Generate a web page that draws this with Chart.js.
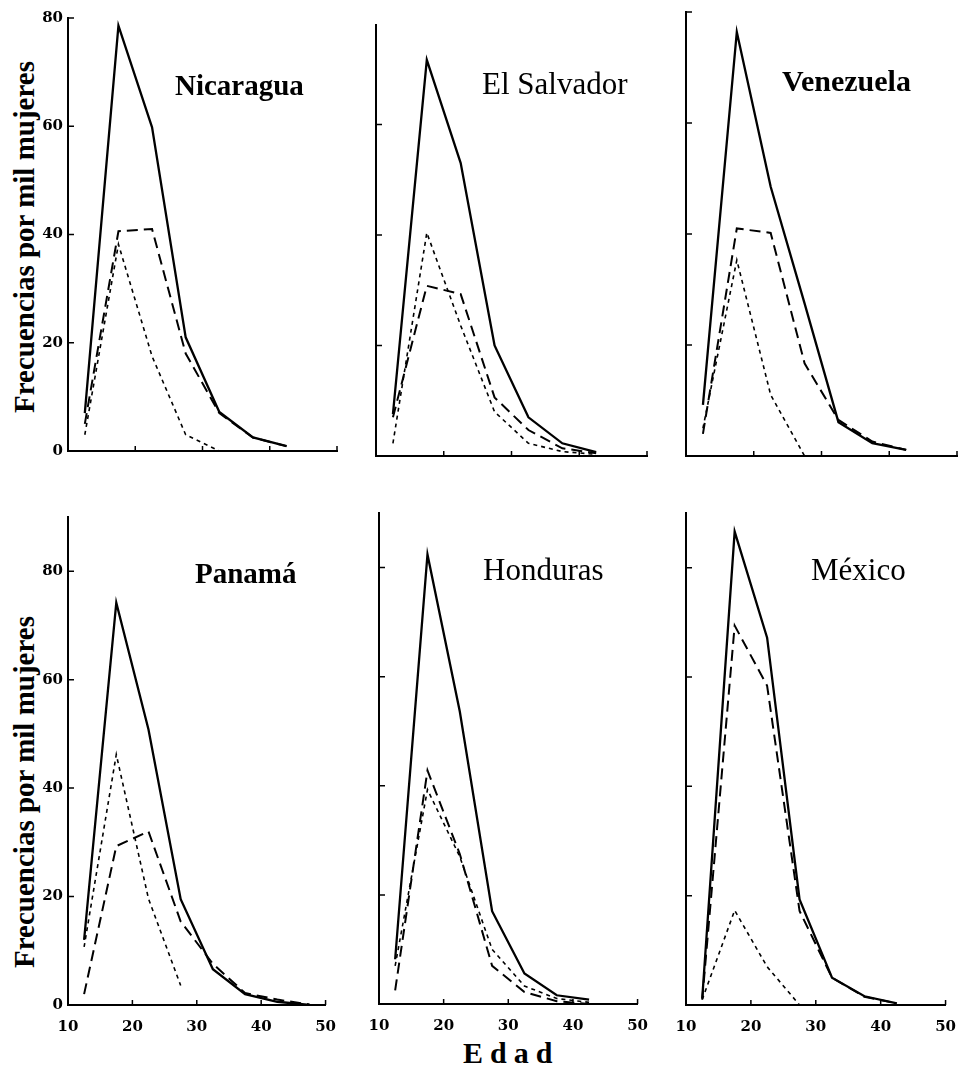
<!DOCTYPE html>
<html lang="es">
<head>
<meta charset="utf-8">
<title>Frecuencias por mil mujeres según edad</title>
<script src="https://cdn.jsdelivr.net/npm/chart.js@4.4.1/dist/chart.umd.min.js"></script>
<style>
  body { margin: 0; background: #fff; }
  #lienzo { position: relative; width: 967px; height: 1069px; overflow: hidden; background: #fff; }
  #lienzo canvas { position: absolute; }
  .pais { position: absolute; font-family: 'Liberation Serif', serif; color: #000; white-space: nowrap; }
  .eje-y { position: absolute; font-family: 'Liberation Serif', serif; font-weight: bold; font-size: 29px; line-height: 29px;
           white-space: nowrap; transform: translate(-50%, -50%) rotate(-90deg); color: #000; }
  .edad { position: absolute; left: 463px; top: 1038px; font-family: 'Liberation Serif', serif; font-weight: bold;
          font-size: 30px; line-height: 30px; letter-spacing: 7px; color: #000; }
</style>
</head>
<body>
<div id="lienzo">
  <div class="eje-y" style="left:24px; top:237px;">Frecuencias por mil mujeres</div>
  <div class="eje-y" style="left:24px; top:792px;">Frecuencias por mil mujeres</div>
  <div class="edad">Edad</div>
</div>
<script>
// edad central de cada grupo quinquenal
const edades = [12.5, 17.5, 22.5, 27.5, 32.5, 37.5, 42.5, 47.5];
const ticksY = [0, 20, 40, 60, 80];
const ticksX = [10, 20, 30, 40, 50];

const paises = ['Nicaragua', 'El Salvador', 'Venezuela', 'Panamá', 'Honduras', 'México'];

// linea continua / rayas largas / rayas cortas
const nicaraguaContinua = [7, 78.6, 59.8, 21, 7.2, 2.5, 0.9, null];
const nicaraguaRayas    = [5, 40.6, 41, 18, 7, 2.5, 0.9, null];
const nicaraguaPuntos   = [3, 38.2, 17.5, 3, 0, null, null, null];

const salvadorContinua = [7.6, 71.7, 53, 20, 7, 2.3, 0.7, null];
const salvadorRayas    = [7, 30.8, 29.3, 10.6, 4.7, 1.4, 0.5, null];
const salvadorPuntos   = [2.3, 40.4, 23.6, 8, 2.3, 0.8, 0.3, null];

const venezuelaContinua = [9.2, 76.4, 48.5, 27.5, 6.1, 2.3, 1.1, null];
const venezuelaRayas    = [4, 41, 40.2, 16.7, 6.5, 2.6, 1.1, null];
const venezuelaPuntos   = [5, 35.3, 11, 0, null, null, null, null];

const panamaContinua = [12, 74.2, 50.8, 19.5, 6.6, 2, 0.6, 0];
const panamaRayas    = [2, 29.3, 32, 15.4, 7.6, 2.2, 1, 0.1];
const panamaPuntos   = [10.7, 46.2, 19.6, 3.6, null, null, null, null];

const hondurasContinua = [8.2, 82.4, 53.6, 17, 5.6, 1.6, 0.8, null];
const hondurasRayas    = [2.5, 42.8, 27.5, 7, 2.2, 0.5, 0, null];
const hondurasPuntos   = [7, 39.3, 27, 10, 3.3, 1, 0.3, null];

const mexicoContinua = [1.2, 86.6, 67.2, 19.3, 5, 1.6, 0.3, null];
const mexicoRayas    = [1, 69.4, 58.4, 17.2, 5, 1.5, 0.3, null];
const mexicoPuntos   = [1, 17.3, 7, 0, null, null, null, null];

const series = [
  [nicaraguaContinua, nicaraguaRayas, nicaraguaPuntos],
  [salvadorContinua, salvadorRayas, salvadorPuntos],
  [venezuelaContinua, venezuelaRayas, venezuelaPuntos],
  [panamaContinua, panamaRayas, panamaPuntos],
  [hondurasContinua, hondurasRayas, hondurasPuntos],
  [mexicoContinua, mexicoRayas, mexicoPuntos]
];

// area de trazado de cada panel en la pagina
const marcos = [
  { l: 68,  r: 337, t: 14,  b: 457,  max: 80, conY: true,  conX: false },
  { l: 376, r: 647, t: 25,  b: 456,  max: 78, conY: false, conX: false },
  { l: 686, r: 957, t: 12,  b: 456,  max: 80, conY: false, conX: false },
  { l: 68,  r: 337, t: 513, b: 1005, max: 90, conY: true,  conX: true },
  { l: 379, r: 649, t: 513, b: 1004, max: 90, conY: false, conX: true },
  { l: 686, r: 957, t: 513, b: 1005, max: 90, conY: false, conX: true }
];

const rotulos = [
  { left: 175, top: 71,  size: 29, bold: true },
  { left: 482, top: 68,  size: 31, bold: false },
  { left: 782, top: 66,  size: 30, bold: true },
  { left: 195, top: 559, size: 29, bold: true },
  { left: 483, top: 554, size: 31, bold: false },
  { left: 811, top: 554, size: 31, bold: false }
];

const estilos = [
  { width: 2.3, dash: [] },
  { width: 2, dash: [11, 6] },
  { width: 1.6, dash: [4, 4] }
];

// marcas cortas hacia dentro en ambos ejes
const marcasInternas = {
  id: 'marcasInternas',
  afterDraw(chart) {
    const { ctx, chartArea } = chart;
    const sx = chart.scales.x;
    const sy = chart.scales.y;
    ctx.save();
    ctx.strokeStyle = '#000';
    ctx.lineWidth = 1.5;
    ctx.beginPath();
    sx.ticks.forEach(t => {
      if (t.value <= sx.min) return;
      const px = sx.getPixelForValue(t.value);
      ctx.moveTo(px, chartArea.bottom);
      ctx.lineTo(px, chartArea.bottom - 5);
    });
    sy.ticks.forEach(t => {
      if (t.value <= sy.min) return;
      const py = sy.getPixelForValue(t.value);
      ctx.moveTo(chartArea.left, py);
      ctx.lineTo(chartArea.left + 6, py);
    });
    ctx.stroke();
    ctx.restore();
  }
};

const lienzo = document.getElementById('lienzo');
const fuente = { family: "'DejaVu Serif', serif", size: 15, weight: 'bold' };

marcos.forEach((m, i) => {
  const altoX = m.conX ? 40 : 8;
  const canvas = document.createElement('canvas');
  canvas.width = m.r - m.l + 72;
  canvas.height = m.b - m.t + 10 + altoX;
  canvas.style.left = (m.l - 60) + 'px';
  canvas.style.top = (m.t - 10) + 'px';
  lienzo.appendChild(canvas);

  const rot = rotulos[i];
  const div = document.createElement('div');
  div.className = 'pais';
  div.textContent = paises[i];
  div.style.left = rot.left + 'px';
  div.style.top = rot.top + 'px';
  div.style.fontSize = rot.size + 'px';
  div.style.lineHeight = rot.size + 'px';
  div.style.fontWeight = rot.bold ? 'bold' : 'normal';
  lienzo.appendChild(div);

  const datasets = series[i].map((valores, k) => ({
    data: edades.map((e, j) => ({ x: e, y: valores[j] })),
    borderColor: '#000',
    borderWidth: estilos[k].width,
    borderDash: estilos[k].dash,
    pointRadius: 0,
    fill: false,
    tension: 0,
    spanGaps: false
  }));

  new Chart(canvas, {
    type: 'line',
    data: { datasets: datasets },
    options: {
      responsive: false,
      animation: false,
      layout: { padding: { left: 0, top: 10, right: 12, bottom: 0 } },
      plugins: { legend: { display: false }, tooltip: { enabled: false } },
      scales: {
        x: {
          type: 'linear',
          min: 10,
          max: 50,
          afterBuildTicks: s => { s.ticks = ticksX.map(v => ({ value: v })); },
          afterFit: s => { s.height = altoX; },
          grid: { drawOnChartArea: false, drawTicks: false },
          border: { display: true, color: '#000', width: 2 },
          ticks: { display: m.conX, color: '#000', font: fuente, padding: 13, maxRotation: 0 }
        },
        y: {
          min: 0,
          max: m.max,
          afterBuildTicks: s => { s.ticks = ticksY.filter(v => v <= m.max).map(v => ({ value: v })); },
          afterFit: s => { s.width = 60; },
          grid: { drawOnChartArea: false, drawTicks: false },
          border: { display: true, color: '#000', width: 2 },
          ticks: { display: m.conY, color: '#000', font: fuente, padding: 5 }
        }
      }
    },
    plugins: [marcasInternas]
  });
});
</script>
</body>
</html>
